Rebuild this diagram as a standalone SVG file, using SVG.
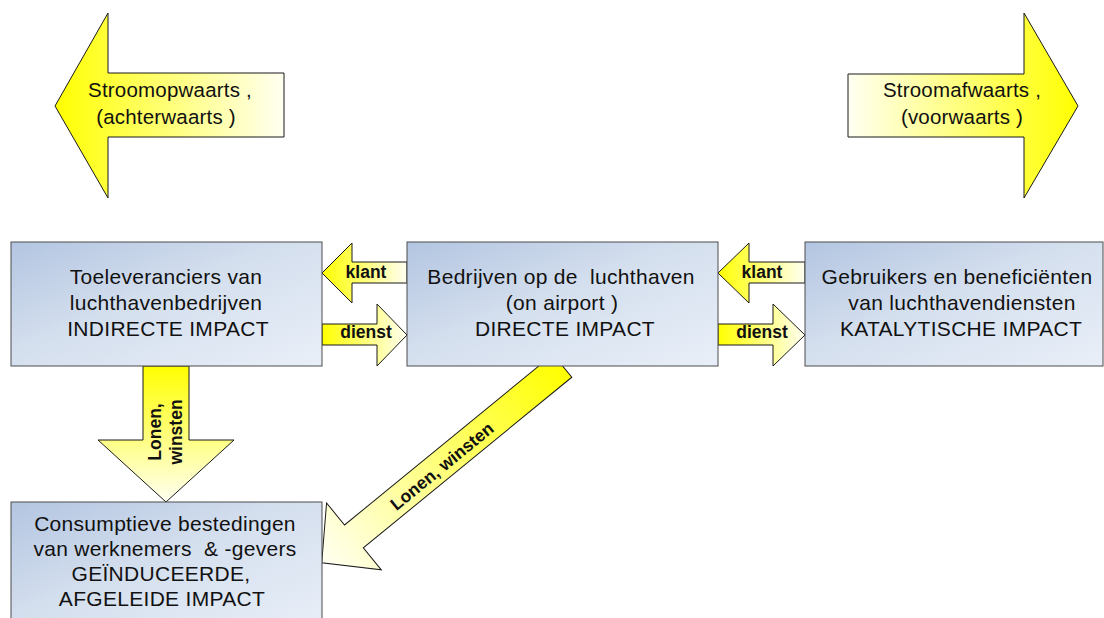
<svg xmlns="http://www.w3.org/2000/svg" width="1104" height="618" viewBox="0 0 1104 618">
<defs>
<linearGradient id="gBox" x1="0" y1="0" x2="1" y2="1">
<stop offset="0" stop-color="#b3c5e1"/>
<stop offset="0.45" stop-color="#d4dfee"/>
<stop offset="1" stop-color="#e9eff8"/>
</linearGradient>
<linearGradient id="gYL" x1="0" y1="0" x2="1" y2="0">
<stop offset="0" stop-color="#ffff00"/>
<stop offset="1" stop-color="#fffff2"/>
</linearGradient>
<linearGradient id="gYR" x1="0" y1="0" x2="1" y2="0">
<stop offset="0" stop-color="#fffff2"/>
<stop offset="1" stop-color="#ffff00"/>
</linearGradient>
<linearGradient id="gYD" x1="0" y1="0" x2="0" y2="1">
<stop offset="0" stop-color="#ffff00"/>
<stop offset="1" stop-color="#fffff2"/>
</linearGradient>
<style>
.box{fill:url(#gBox);stroke:#4d4d4d;stroke-width:1}
.arr{stroke:#1a1a1a;stroke-width:1;stroke-linejoin:miter}
.t{font-family:"Liberation Sans",Arial,sans-serif;font-size:21px;letter-spacing:0.3px;fill:#111;text-anchor:middle;white-space:pre}
.a{font-family:"Liberation Sans",Arial,sans-serif;font-size:20.5px;letter-spacing:0.2px;fill:#111;text-anchor:middle;white-space:pre}
.b{font-family:"Liberation Sans",Arial,sans-serif;font-size:17.5px;font-weight:bold;fill:#111;text-anchor:middle;white-space:pre}
</style>
</defs>
<rect width="1104" height="618" fill="#fff"/>

<g id="connectors">
<g id="upstream">
<path class="arr" fill="url(#gYL)" d="M55,106 L108,13 L108,73 L284,73 L284,137 L108,137 L108,198 Z"/>
<text class="a" x="170" y="97">Stroomopwaarts ,</text>
<text class="a" x="166" y="124">(achterwaarts )</text>
</g>
<g id="downstream">
<path class="arr" fill="url(#gYR)" d="M848,74 L1024,74 L1024,13 L1078,106 L1024,198 L1024,137 L848,137 Z"/>
<text class="a" x="962" y="97">Stroomafwaarts ,</text>
<text class="a" x="962" y="124">(voorwaarts )</text>
</g>
<g id="klant1">
<path class="arr" fill="url(#gYL)" d="M322,273 L352,243 L352,262 L407,262 L407,283 L352,283 L352,303 Z"/>
<text class="b" x="366" y="278">klant</text>
</g>
<g id="dienst1">
<path class="arr" fill="url(#gYL)" d="M322,324 L377,324 L377,304 L407,335 L377,366 L377,345 L322,345 Z"/>
<text class="b" x="366" y="338">dienst</text>
</g>
<g id="klant2">
<path class="arr" fill="url(#gYL)" d="M718,273 L749,243 L749,262 L805,262 L805,283 L749,283 L749,303 Z"/>
<text class="b" x="762" y="278">klant</text>
</g>
<g id="dienst2">
<path class="arr" fill="url(#gYL)" d="M718,324 L773,324 L773,304 L805,335 L773,366 L773,345 L718,345 Z"/>
<text class="b" x="762" y="338">dienst</text>
</g>
<g id="lonen1">
<path class="arr" fill="url(#gYD)" d="M143,366 L189,366 L189,440 L234,440 L166,502 L98,440 L143,440 Z"/>
<text class="b" transform="translate(161,432) rotate(-90)">Lonen,</text>
<text class="b" transform="translate(182,432) rotate(-90)">winsten</text>
</g>
<g id="lonen2">
<path class="arr" fill="url(#gYL)" transform="translate(562.4,365.8) rotate(140.7)" d="M0,-14.8 L269.4,-14.8 L269.4,-43.2 L311,0 L269.4,43.2 L269.4,14.8 L0,14.8 Z"/>
<text class="b" transform="translate(441.7,465.8) rotate(-39.3)" y="6.5">Lonen, winsten</text>
</g>
</g>

<g id="node-indirect">
<rect class="box" x="11" y="242" width="311" height="124"/>
<text class="t" x="166" y="284">Toeleveranciers van</text>
<text class="t" x="166" y="310">luchthavenbedrijven</text>
<text class="t" x="168" y="336">INDIRECTE IMPACT</text>
</g>
<g id="node-direct">
<rect class="box" x="407" y="242" width="311" height="124"/>
<text class="t" x="561" y="284">Bedrijven op de  luchthaven</text>
<text class="t" x="562" y="310">(on airport )</text>
<text class="t" x="565" y="336">DIRECTE IMPACT</text>
</g>
<g id="node-catalytic">
<rect class="box" x="805" y="242" width="298" height="124"/>
<text class="t" x="957" y="284">Gebruikers en beneficiënten</text>
<text class="t" x="962" y="310">van luchthavendiensten</text>
<text class="t" x="961" y="336">KATALYTISCHE IMPACT</text>
</g>
<g id="node-induced">
<rect class="box" x="11" y="502" width="311" height="130"/>
<text class="t" x="165" y="531">Consumptieve bestedingen</text>
<text class="t" x="165" y="556">van werknemers  &amp; -gevers</text>
<text class="t" x="161" y="581">GEÏNDUCEERDE,</text>
<text class="t" x="162" y="606">AFGELEIDE IMPACT</text>
</g>
</svg>
